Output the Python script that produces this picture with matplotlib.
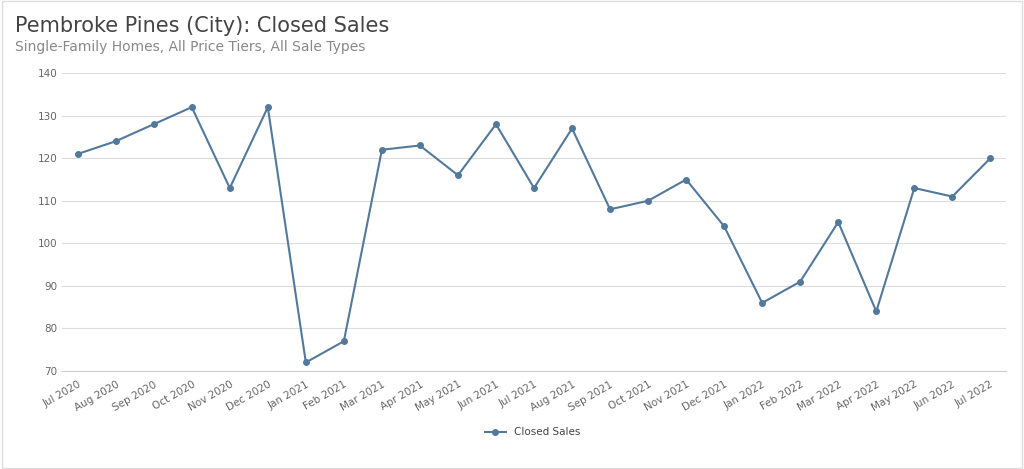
import matplotlib
matplotlib.use("Agg")
import matplotlib.pyplot as plt
from matplotlib.patches import Rectangle

months = ["Jul 2020","Aug 2020","Sep 2020","Oct 2020","Nov 2020","Dec 2020",
          "Jan 2021","Feb 2021","Mar 2021","Apr 2021","May 2021","Jun 2021",
          "Jul 2021","Aug 2021","Sep 2021","Oct 2021","Nov 2021","Dec 2021",
          "Jan 2022","Feb 2022","Mar 2022","Apr 2022","May 2022","Jun 2022","Jul 2022"]
closed_sales = [121,124,128,132,113,132,72,77,122,123,116,128,113,127,108,110,115,104,86,91,105,84,113,111,120]
yticks = [70,80,90,100,110,120,130,140]

color = "#52799b"
fig = plt.figure(figsize=(10.24,4.69), dpi=100)
fig.patches.append(Rectangle((0.002,0.002),0.996,0.996, transform=fig.transFigure,
                             fill=False, edgecolor="#dddddd", lw=1))
ax = fig.add_axes([0.061,0.209,0.921,0.635])
x = list(range(len(months)))
ax.plot(x, closed_sales, color=color, lw=1.5, marker="o", ms=4, label="Closed Sales")
ax.set_xlim(-0.4, len(months)-1+0.4)
ax.set_ylim(70,140)
ax.set_yticks(yticks)
ax.set_xticks(x)
ax.set_xticklabels(months, rotation=30, ha="right", rotation_mode="anchor")
ax.tick_params(axis="both", labelsize=7.5, colors="#666666", length=0)
ax.tick_params(axis="x", pad=6)
ax.grid(axis="y", color="#dddddd", lw=0.8)
for s in ["top","right","left"]:
    ax.spines[s].set_visible(False)
ax.spines["bottom"].set_color("#cccccc")
fig.text(0.015,0.945,"Pembroke Pines (City): Closed Sales", fontsize=15, color="#444444", va="center")
fig.text(0.015,0.9,"Single-Family Homes, All Price Tiers, All Sale Types", fontsize=10, color="#888888", va="center")
fig.legend(loc="center", bbox_to_anchor=(0.52,0.078), frameon=False, fontsize=7.5,
           labelcolor="#444444")
fig.savefig("out.png", dpi=100)
